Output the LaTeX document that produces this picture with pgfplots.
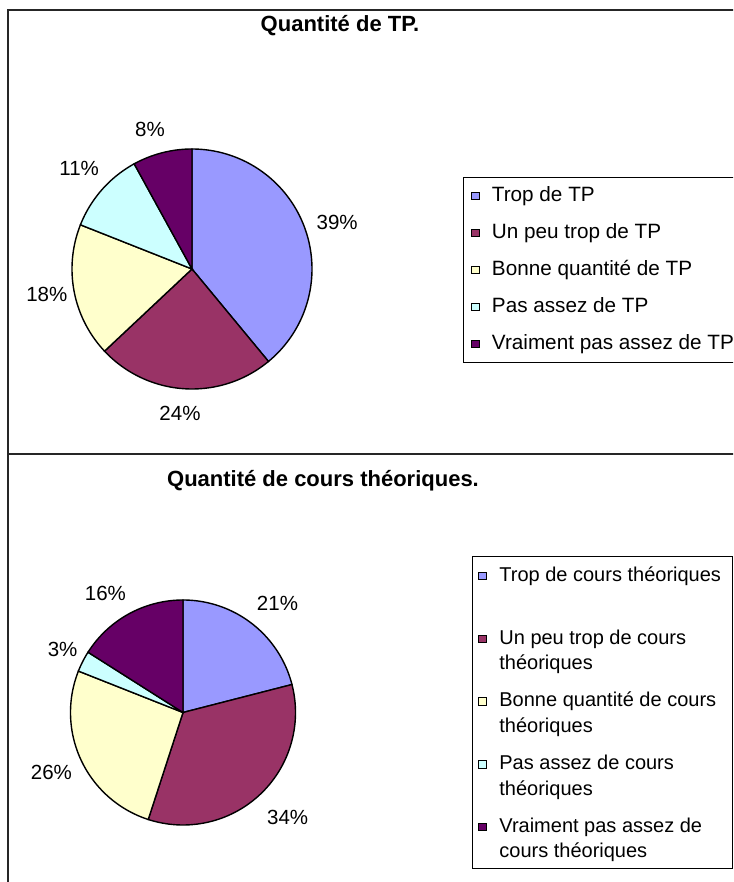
\documentclass[border=0pt]{standalone}
\usepackage{fontspec}
\setmainfont{Liberation Sans}
\usepackage{pgfplots}
\pgfplotsset{compat=1.18}
\definecolor{c1}{HTML}{9999FF}
\definecolor{c2}{HTML}{993366}
\definecolor{c3}{HTML}{FFFFCC}
\definecolor{c4}{HTML}{CCFFFF}
\definecolor{c5}{HTML}{660066}
\pgfplotsset{
  pie/.style={scale only axis, xmin=-1, xmax=1, ymin=-1, ymax=1, hide axis, clip=false,
    legend image code/.code={\draw[##1, draw=black, line width=0.5pt] (0pt,0.8pt) rectangle (3.75pt,4.55pt);}},
  slice/.style={draw=black, line width=0.7pt, samples=90},
}
\begin{document}
\begin{tikzpicture}
\useasboundingbox (0pt,0pt) rectangle (366.5pt,441pt);
\clip (0pt,0pt) rectangle (366.5pt,441pt);
\fill[white] (0pt,0pt) rectangle (366.5pt,441pt);
\draw[line width=1pt, black!85] (4pt,-10pt) -- (4pt,436pt) -- (380pt,436pt);
\draw[line width=1pt, black!85] (4pt,214pt) -- (380pt,214pt);
\node[font=\fontsize{11}{13}\selectfont\bfseries, anchor=base] at (170pt,425pt) {Quantité de TP.};
\node[font=\fontsize{11}{13}\selectfont\bfseries, anchor=base] at (161.5pt,197.5pt) {Quantité de cours théoriques.};

% Top pie: 39, 24, 18, 11, 8 (%), clockwise from 12 o'clock
\begin{axis}[pie, at={(96pt,306.5pt)}, anchor=center, width=120pt, height=120pt,
  legend style={at={(1.629,0.883)}, anchor=north west, draw=black, line width=0.5pt,
    inner xsep=4pt, inner ysep=3.75pt, row sep=7.5pt, column sep=6pt,
    font=\fontsize{10.35}{12}\selectfont,
    nodes={inner sep=0pt, text height=8.25pt, text depth=2.75pt},
    cells={anchor=base west}}]
\addplot[slice, fill=c1, domain={90-3.6*39}:{90-3.6*0}] ({cos(x)},{sin(x)}) -- (axis cs:0,0) -- cycle;
\addplot[slice, fill=c2, domain={90-3.6*63}:{90-3.6*39}] ({cos(x)},{sin(x)}) -- (axis cs:0,0) -- cycle;
\addplot[slice, fill=c3, domain={90-3.6*81}:{90-3.6*63}] ({cos(x)},{sin(x)}) -- (axis cs:0,0) -- cycle;
\addplot[slice, fill=c4, domain={90-3.6*92}:{90-3.6*81}] ({cos(x)},{sin(x)}) -- (axis cs:0,0) -- cycle;
\addplot[slice, fill=c5, domain={90-3.6*100}:{90-3.6*92}] ({cos(x)},{sin(x)}) -- (axis cs:0,0) -- cycle;
\legend{Trop de TP, Un peu trop de TP, Bonne quantité de TP, Pas assez de TP, Vraiment pas assez de TP}
\begin{scope}[every node/.style={font=\fontsize{10.25}{12}\selectfont}]
\node at (axis cs:1.21,0.39) {39\%};
\node at (axis cs:-0.10,-1.20) {24\%};
\node at (axis cs:-1.21,-0.21) {18\%};
\node at (axis cs:-0.94,0.84) {11\%};
\node at (axis cs:-0.35,1.16) {8\%};
\end{scope}
\end{axis}

% Bottom pie: 21, 34, 26, 3, 16 (%)
\begin{axis}[pie, at={(91.5pt,84.75pt)}, anchor=center, width=112.5pt, height=112.5pt,
  legend style={at={(1.784,1.196)}, anchor=north west, draw=black, line width=0.5pt,
    inner xsep=3pt, inner ysep=2.5pt, row sep=5.625pt, column sep=6.25pt,
    font=\fontsize{10}{12.75}\selectfont,
    nodes={inner sep=0pt, text height=10pt, text depth=15.75pt},
    cells={anchor=base west}}]
\addplot[slice, fill=c1, domain={90-3.6*21}:{90-3.6*0}] ({cos(x)},{sin(x)}) -- (axis cs:0,0) -- cycle;
\addplot[slice, fill=c2, domain={90-3.6*55}:{90-3.6*21}] ({cos(x)},{sin(x)}) -- (axis cs:0,0) -- cycle;
\addplot[slice, fill=c3, domain={90-3.6*81}:{90-3.6*55}] ({cos(x)},{sin(x)}) -- (axis cs:0,0) -- cycle;
\addplot[slice, fill=c4, domain={90-3.6*84}:{90-3.6*81}] ({cos(x)},{sin(x)}) -- (axis cs:0,0) -- cycle;
\addplot[slice, fill=c5, domain={90-3.6*100}:{90-3.6*84}] ({cos(x)},{sin(x)}) -- (axis cs:0,0) -- cycle;
\legend{
  {\parbox[t]{113.5pt}{Trop de cours théoriques}},
  {\parbox[t]{113.5pt}{Un peu trop de cours\\théoriques}},
  {\parbox[t]{113.5pt}{Bonne quantité de cours\\théoriques}},
  {\parbox[t]{113.5pt}{Pas assez de cours\\théoriques}},
  {\parbox[t]{113.5pt}{Vraiment pas assez de\\cours théoriques}}}
\begin{scope}[every node/.style={font=\fontsize{10.25}{12}\selectfont}]
\node at (axis cs:0.84,0.97) {21\%};
\node at (axis cs:0.93,-0.93) {34\%};
\node at (axis cs:-1.17,-0.53) {26\%};
\node at (axis cs:-1.07,0.56) {3\%};
\node at (axis cs:-0.69,1.06) {16\%};
\end{scope}
\end{axis}
\end{tikzpicture}
\end{document}
